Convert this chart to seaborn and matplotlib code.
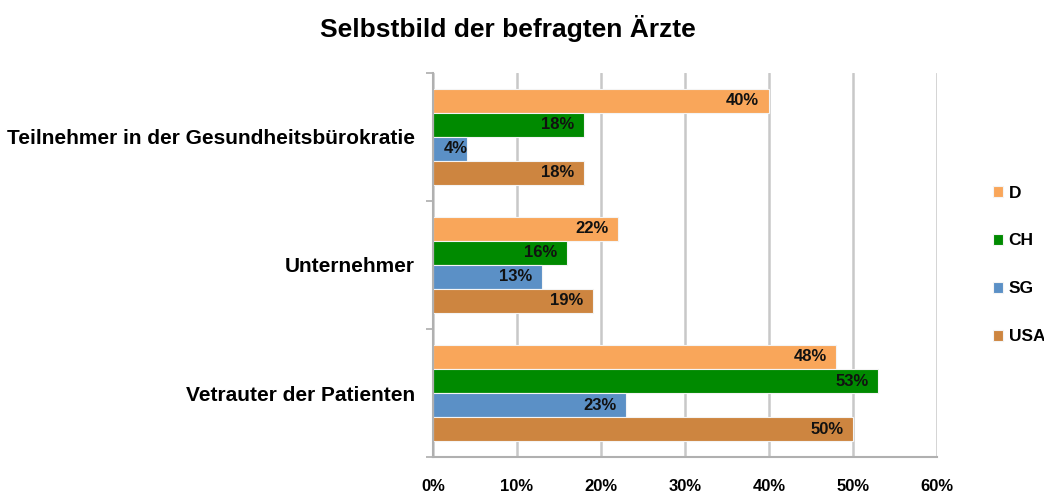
import pandas as pd
import matplotlib.pyplot as plt
import seaborn as sns

categories = ["Teilnehmer in der Gesundheitsbürokratie", "Unternehmer", "Vetrauter der Patienten"]
countries = ["D", "CH", "SG", "USA"]
d_vals = [40, 22, 48]
ch_vals = [18, 16, 53]
sg_vals = [4, 13, 23]
usa_vals = [18, 19, 50]
colors = ["#F9A65A", "#008A00", "#5B90C6", "#CD8540"]

rows = []
for country, vals in zip(countries, [d_vals, ch_vals, sg_vals, usa_vals]):
    for cat, v in zip(categories, vals):
        rows.append({"Rolle": cat, "Land": country, "Anteil": v})
df = pd.DataFrame(rows)

sns.set_theme(style="white")
plt.rcParams['font.family'] = ['Liberation Sans', 'DejaVu Sans']
plt.rcParams['text.color'] = 'black'
plt.rcParams['xtick.color'] = 'black'
plt.rcParams['ytick.color'] = 'black'

fig = plt.figure(figsize=(10.44, 4.93), dpi=100)
ax = fig.add_axes([0.4148, 0.073, 0.4828, 0.779])

sns.barplot(data=df, y="Rolle", x="Anteil", hue="Land", order=categories,
            hue_order=countries, palette=colors, width=0.75, orient="h",
            saturation=1, ax=ax, legend=True, linewidth=0.8, edgecolor="#f4f4f4")

ax.set_xlim(0, 60)

# data labels: inside end, right aligned; small bars get the label from the axis
for cont in ax.containers:
    for bar, v in zip(cont, cont.datavalues):
        yc = bar.get_y() + bar.get_height() / 2
        if v < 8:
            ax.annotate(f"{int(v)}%", (0, yc), xytext=(8, 0), textcoords="offset points",
                        ha="left", va="center", fontsize=12, fontweight="bold", color="#111111")
        else:
            ax.annotate(f"{int(v)}%", (v, yc), xytext=(-7, 0), textcoords="offset points",
                        ha="right", va="center", fontsize=12, fontweight="bold", color="#111111")

ax.set_xticks(range(0, 61, 10))
ax.set_xticklabels([f"{t}%" for t in range(0, 61, 10)], fontsize=12, fontweight="bold")
ax.xaxis.grid(True, color="#c8c8c8", linewidth=1.8)
ax.set_axisbelow(True)
ax.tick_params(axis="x", length=4, color="#b0b0b0", labelcolor="black", pad=12)

# category ticks at boundaries, labels at centers
ax.set_ylim(2.5, -0.5)
ax.set_yticks([-0.5, 0.5, 1.5, 2.5])
ax.set_yticklabels([])
ax.set_yticks([0, 1, 2], minor=True)
ax.set_yticklabels(categories, minor=True, fontsize=15, fontweight="bold")
ax.tick_params(axis="y", which="major", length=5, color="#b0b0b0", left=True)
ax.tick_params(axis="y", which="minor", length=0, pad=13, labelcolor="black")

for s in ["top", "right"]:
    ax.spines[s].set_visible(False)
for s in ["left", "bottom"]:
    ax.spines[s].set_color("#b0b0b0")
    ax.spines[s].set_linewidth(1.5)

ax.set_xlabel("")
ax.set_ylabel("")

leg = ax.legend(loc="center left", bbox_to_anchor=(1.08, 0.5), frameon=False,
                handlelength=0.55, handleheight=0.55, handletextpad=0.35,
                labelspacing=1.9, prop={"weight": "bold", "size": 12.5})

fig.suptitle("Selbstbild der befragten Ärzte", fontsize=19, fontweight="bold", y=0.97, x=0.486)

fig.savefig("out.png", dpi=100)
